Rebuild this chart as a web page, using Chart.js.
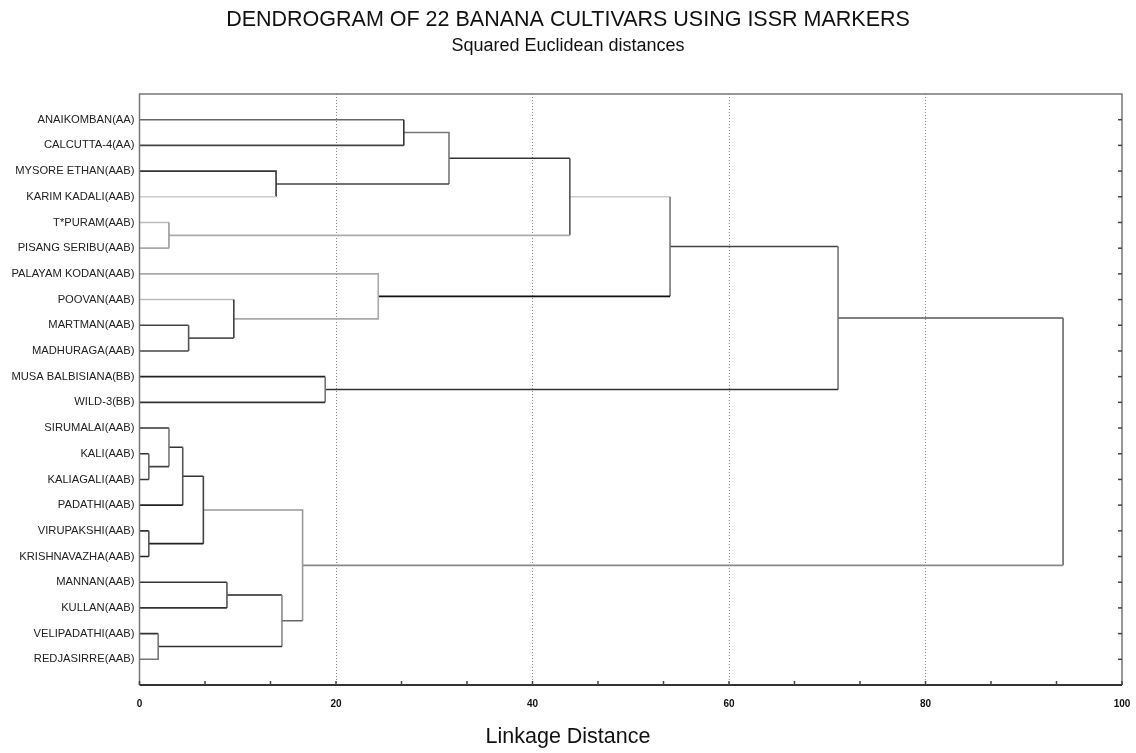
<!DOCTYPE html>
<html>
<head>
<meta charset="utf-8">
<script src="https://cdn.jsdelivr.net/npm/chart.js@4.4.1/dist/chart.umd.min.js"></script>
<style>
  html, body { margin: 0; padding: 0; background: #ffffff; }
  #wrap { width: 1136px; height: 753px; position: relative; }
</style>
</head>
<body>
<div id="wrap"><canvas id="c" width="1136" height="753"></canvas></div>
<script>
// ---- data ----
const leaves = [
  "ANAIKOMBAN(AA)", "CALCUTTA-4(AA)", "MYSORE ETHAN(AAB)", "KARIM KADALI(AAB)",
  "T*PURAM(AAB)", "PISANG SERIBU(AAB)", "PALAYAM KODAN(AAB)", "POOVAN(AAB)",
  "MARTMAN(AAB)", "MADHURAGA(AAB)", "MUSA BALBISIANA(BB)", "WILD-3(BB)",
  "SIRUMALAI(AAB)", "KALI(AAB)", "KALIAGALI(AAB)", "PADATHI(AAB)",
  "VIRUPAKSHI(AAB)", "KRISHNAVAZHA(AAB)", "MANNAN(AAB)", "KULLAN(AAB)",
  "VELIPADATHI(AAB)", "REDJASIRRE(AAB)"
];
// merge children: ids < 22 are leaves, id >= 22 refers to merge (id - 22)
const mergeA = [13, 16, 20, 4, 12, 26, 8, 27, 18, 7, 2, 30, 29, 10, 6, 0, 37, 38, 39, 40, 41];
const mergeB = [14, 17, 21, 5, 22, 15, 9, 23, 19, 28, 3, 24, 33, 11, 31, 1, 32, 25, 36, 35, 34];
const mergeHeight = [0.95, 0.95, 1.9, 3.0, 3.0, 4.4, 5.0, 6.5, 8.9, 9.6, 13.9, 14.5, 16.6, 18.9, 24.3, 26.9, 31.5, 43.8, 54.0, 71.1, 94.0];
const xTicks = [0, 20, 40, 60, 80, 100];
const titleText = 'DENDROGRAM OF 22 BANANA CULTIVARS USING ISSR MARKERS';
const subtitleText = 'Squared Euclidean distances';
const xAxisTitle = 'Linkage Distance';

// ---- styles (arm A, vertical, arm B) ----
const mergeColors = [
  ["#333", "#666", "#333"], ["#333", "#555", "#222"], ["#333", "#777", "#777"],
  ["#bbb", "#999", "#aaa"], ["#333", "#777", "#444"], ["#333", "#555", "#222"],
  ["#444", "#555", "#444"], ["#333", "#444", "#222"], ["#333", "#555", "#333"],
  ["#bbb", "#444", "#555"], ["#333", "#333", "#ccc"], ["#222", "#888", "#333"],
  ["#999", "#999", "#666"], ["#222", "#777", "#333"], ["#aaa", "#aaa", "#aaa"],
  ["#666", "#333", "#444"], ["#777", "#777", "#444"], ["#333", "#555", "#aaa"],
  ["#ccc", "#777", "#111"], ["#444", "#777", "#333"], ["#555", "#666", "#888"]
];

// ---- dendrogram layout from the data ----
const nLeaf = leaves.length;
function nodeY(id) {
  if (id < nLeaf) return id + 1;
  const m = id - nLeaf;
  return (nodeY(mergeA[m]) + nodeY(mergeB[m])) / 2;
}
function nodeH(id) { return id < nLeaf ? 0 : mergeHeight[id - nLeaf]; }

const datasets = mergeHeight.map((h, m) => {
  const a = mergeA[m], b = mergeB[m];
  const ya = nodeY(a), yb = nodeY(b);
  const cols = mergeColors[m];
  return {
    data: [
      { x: nodeH(a), y: ya }, { x: h, y: ya },
      { x: h, y: yb }, { x: nodeH(b), y: yb }
    ],
    xAxisID: 'x',
    yAxisID: 'y',
    showLine: true,
    pointRadius: 0,
    borderWidth: 1.6,
    borderColor: cols[1],
    fill: false,
    tension: 0,
    segment: { borderColor: ctx => cols[ctx.p0DataIndex] }
  };
});

const FONT = "'Liberation Sans', Arial, sans-serif";

const framePlugin = {
  id: 'frame',
  afterDatasetsDraw(chart) {
    const { ctx, chartArea: a, scales: { x, y } } = chart;
    ctx.save();
    ctx.lineWidth = 1.5;
    ctx.strokeStyle = '#777';
    ctx.beginPath();
    ctx.moveTo(a.left, a.bottom); ctx.lineTo(a.left, a.top);
    ctx.lineTo(a.right, a.top); ctx.lineTo(a.right, a.bottom);
    ctx.stroke();
    ctx.lineWidth = 2;
    ctx.strokeStyle = '#333';
    ctx.beginPath();
    ctx.moveTo(a.left, a.bottom); ctx.lineTo(a.right, a.bottom);
    ctx.stroke();
    ctx.lineWidth = 1.5;
    ctx.strokeStyle = '#444';
    for (let i = 1; i <= nLeaf; i++) {
      const py = y.getPixelForValue(i);
      ctx.beginPath(); ctx.moveTo(a.right, py); ctx.lineTo(a.right - 4, py); ctx.stroke();
    }
    for (let k = 0; k <= 15; k++) {
      const px = x.getPixelForValue(k * 20 / 3);
      ctx.beginPath(); ctx.moveTo(px, a.bottom); ctx.lineTo(px, a.bottom - 4); ctx.stroke();
    }
    // x axis title, centred on the page as in the original figure
    ctx.fillStyle = '#111';
    ctx.font = "21.5px " + FONT;
    ctx.textAlign = 'center';
    ctx.textBaseline = 'middle';
    ctx.fillText(xAxisTitle, chart.width / 2, 737);
    ctx.restore();
  }
};

new Chart(document.getElementById('c'), {
  type: 'scatter',
  data: { datasets },
  options: {
    responsive: false,
    animation: false,
    layout: { padding: 0 },
    plugins: {
      legend: { display: false },
      tooltip: { enabled: false },
      title: {
        display: true,
        text: titleText,
        color: '#111',
        font: { family: FONT, size: 21.5, weight: 'normal' },
        padding: { top: 7.5, bottom: 0 }
      },
      subtitle: {
        display: true,
        text: subtitleText,
        color: '#111',
        font: { family: FONT, size: 18, weight: 'normal' },
        padding: { top: 2, bottom: 37.1 }
      }
    },
    scales: {
      x: {
        type: 'linear',
        min: 0, max: 100,
        afterBuildTicks: s => { s.ticks = xTicks.map(v => ({ value: v })); },
        afterFit: s => { s.height = 68; },
        ticks: {
          color: '#111',
          font: { family: "'Liberation Sans Narrow', 'Liberation Sans', Arial, sans-serif", size: 10, weight: 'bold' },
          padding: 0,
          maxRotation: 0
        },
        grid: {
          drawTicks: true,
          tickLength: 13,
          tickColor: 'rgba(0,0,0,0)',
          lineWidth: 1,
          color: c => (c.tick && c.tick.value > 0 && c.tick.value < 100) ? '#888' : 'rgba(0,0,0,0)'
        },
        border: { display: false, dash: [1, 2] }
      },
      y: {
        type: 'linear',
        position: 'left',
        reverse: true,
        min: 0, max: nLeaf + 1,
        afterBuildTicks: s => { s.ticks = leaves.map((_, i) => ({ value: i + 1 })); },
        afterFit: s => { s.width = 139.5; },
        ticks: {
          autoSkip: false,
          color: '#222',
          font: { family: FONT, size: 11.2 },
          padding: 5,
          callback: v => leaves[v - 1]
        },
        grid: { display: false, drawTicks: false },
        border: { display: false }
      },
      yR: {
        type: 'linear',
        position: 'right',
        min: 0, max: nLeaf + 1,
        afterFit: s => { s.width = 14; },
        ticks: { display: false },
        grid: { display: false, drawTicks: false },
        border: { display: false }
      }
    }
  },
  plugins: [framePlugin]
});
</script>
</body>
</html>
